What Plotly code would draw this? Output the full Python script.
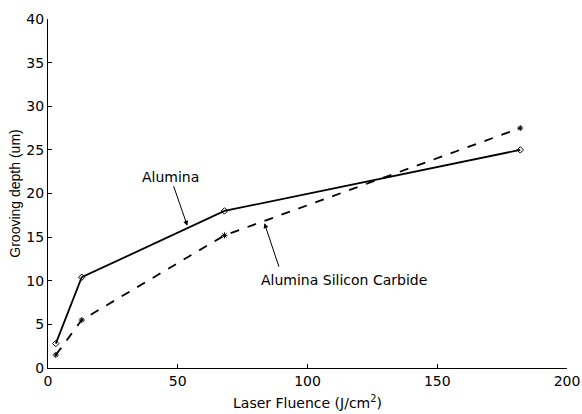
import plotly.graph_objects as go

fluence = [3, 13, 68, 182]
alumina = [2.8, 10.4, 18.0, 25.0]
alumina_sic = [1.5, 5.5, 15.2, 27.5]
x_ticks = [0, 50, 100, 150, 200]
y_ticks = [0, 5, 10, 15, 20, 25, 30, 35, 40]

fig = go.Figure()
fig.add_trace(go.Scatter(x=fluence, y=alumina, mode="lines+markers", name="Alumina",
                         line=dict(color="black", width=1.8),
                         marker=dict(symbol="diamond-open", size=5, color="black", line=dict(width=1))))
fig.add_trace(go.Scatter(x=fluence, y=alumina_sic, mode="lines+markers", name="Alumina Silicon Carbide",
                         line=dict(color="black", width=1.8, dash="dash"),
                         marker=dict(symbol="asterisk-open", size=5, color="black", line=dict(width=1))))

font = dict(family="DejaVu Sans, sans-serif", size=14, color="black")
yfont = dict(family="Liberation Sans, Arial, sans-serif", size=14, color="black")

fig.add_annotation(x=53.7, y=16.3, ax=-17, ay=-49, text="Alumina", showarrow=True,
                   arrowhead=2, arrowsize=1, arrowwidth=1, arrowcolor="black", font=font)
fig.add_annotation(x=83.4, y=16.6, ax=15, ay=45, text="", showarrow=True,
                   arrowhead=2, arrowsize=1, arrowwidth=1, arrowcolor="black")
fig.add_annotation(x=113.9, y=10.1, text="Alumina Silicon Carbide", showarrow=False, font=font)

fig.update_layout(
    width=582, height=414,
    margin=dict(l=48, r=15, t=19, b=46),
    paper_bgcolor="white", plot_bgcolor="white",
    showlegend=False, font=font,
    xaxis=dict(range=[0, 200], tickvals=x_ticks, showline=True, linecolor="black", linewidth=1,
               ticks="inside", ticklen=4, tickcolor="black", showgrid=False, zeroline=False,
               automargin=False, tickfont=font,
               title=dict(text="Laser Fluence (J/cm<sup>2</sup>)", standoff=10, font=font)),
    yaxis=dict(range=[0, 40], tickvals=y_ticks, showline=True, linecolor="black", linewidth=1,
               ticks="inside", ticklen=4, tickcolor="black", showgrid=False, zeroline=False,
               automargin=False, tickfont=font,
               title=dict(text="Grooving depth (um)", standoff=2, font=yfont)),
)
fig.write_html("out.html", config={"displayModeBar": False},
               post_script="document.body.style.margin='0';")
